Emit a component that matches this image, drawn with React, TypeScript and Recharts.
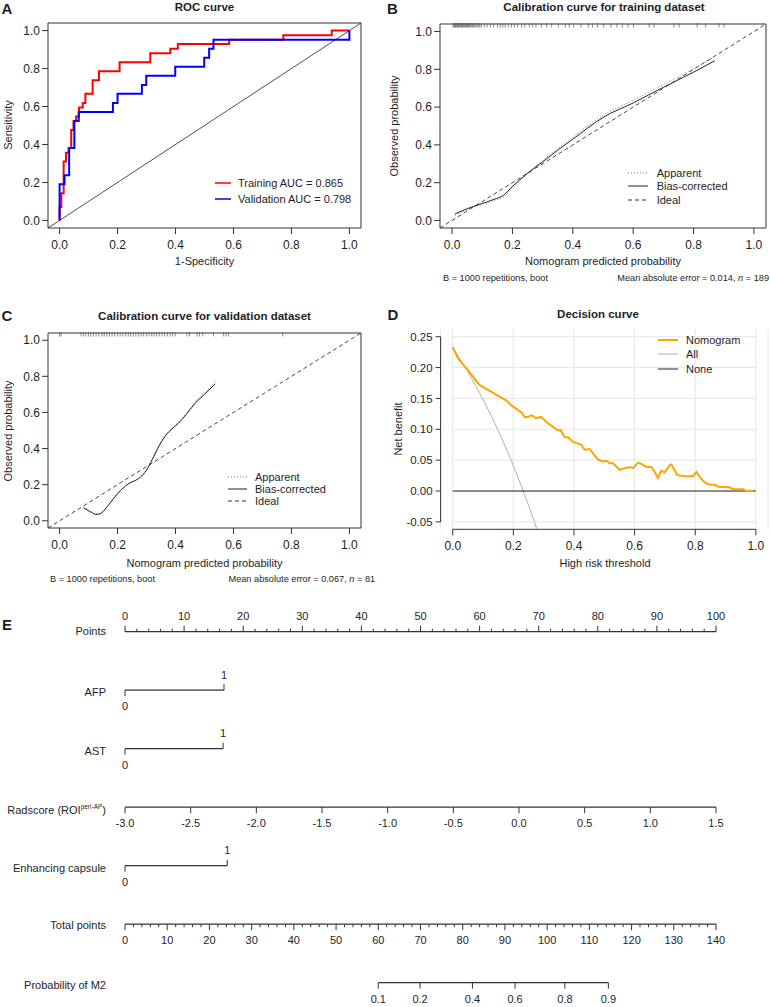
import React from 'react';
import {
  ComposedChart,
  Line,
  XAxis,
  YAxis,
  ReferenceArea,
  ReferenceLine,
  Scatter,
  CartesianGrid,
} from 'recharts';

const FONT = '"Liberation Sans", Arial, Helvetica, sans-serif';
const INK = '#1e1e1e';
const AXIS = '#333333';

// ---------------- Panel A: ROC curve ----------------
const trainFpr = [0, 0.006, 0.014, 0.022, 0.031, 0.04, 0.048, 0.057, 0.067, 0.08, 0.089, 0.114, 0.136, 0.207, 0.313, 0.382, 0.408, 0.585, 0.772, 0.939, 1.0];
const trainTpr = [0.071, 0.143, 0.31, 0.357, 0.381, 0.476, 0.524, 0.548, 0.595, 0.619, 0.667, 0.738, 0.786, 0.833, 0.881, 0.905, 0.929, 0.952, 0.976, 1.0, 1.0];
const validFpr = [0, 0.017, 0.033, 0.051, 0.066, 0.184, 0.2, 0.284, 0.299, 0.399, 0.499, 0.516, 0.531, 1.0];
const validTpr = [0.19, 0.238, 0.381, 0.524, 0.571, 0.619, 0.667, 0.714, 0.762, 0.81, 0.857, 0.905, 0.952, 1.0];
const unitTicks = [0, 0.2, 0.4, 0.6, 0.8, 1.0];

// ---------------- Panel B: calibration (training) ----------------
const calTrainX = [0.01, 0.05, 0.1, 0.14, 0.17, 0.2, 0.25, 0.3, 0.35, 0.4, 0.45, 0.5, 0.6, 0.7, 0.8, 0.87];
const calTrainBias = [0.035, 0.062, 0.09, 0.112, 0.133, 0.18, 0.25, 0.31, 0.372, 0.43, 0.49, 0.545, 0.622, 0.705, 0.785, 0.845];
const calTrainApparent = [0.028, 0.057, 0.085, 0.106, 0.122, 0.172, 0.248, 0.315, 0.38, 0.44, 0.5, 0.556, 0.636, 0.72, 0.803, 0.868];
const trainRug = [
  0.003, 0.006, 0.009, 0.011, 0.014, 0.017, 0.019, 0.022, 0.025, 0.028, 0.031, 0.034, 0.036, 0.039, 0.042,
  0.045, 0.048, 0.051, 0.054, 0.057, 0.06, 0.063, 0.067, 0.071, 0.075, 0.079, 0.083, 0.088, 0.092, 0.097,
  0.107, 0.116, 0.127, 0.138, 0.151, 0.16, 0.168, 0.176, 0.186, 0.197, 0.206, 0.217, 0.23, 0.241, 0.256,
  0.267, 0.278, 0.296, 0.313, 0.33, 0.352, 0.375, 0.388, 0.402, 0.427, 0.451, 0.465, 0.482, 0.502, 0.526,
  0.546, 0.564, 0.583, 0.601, 0.653, 0.669, 0.735, 0.752, 0.812, 0.84, 0.884, 0.901,
];

// ---------------- Panel C: calibration (validation) ----------------
const calValidX = [0.083, 0.1, 0.111, 0.125, 0.134, 0.146, 0.17, 0.2, 0.238, 0.26, 0.278, 0.3, 0.32, 0.345, 0.37, 0.385, 0.41, 0.44, 0.47, 0.5, 0.537];
const calValidBias = [0.072, 0.055, 0.045, 0.036, 0.036, 0.045, 0.09, 0.15, 0.205, 0.222, 0.24, 0.28, 0.34, 0.42, 0.48, 0.505, 0.54, 0.595, 0.655, 0.7, 0.758];
const calValidApparent = [0.08, 0.06, 0.048, 0.038, 0.037, 0.046, 0.09, 0.15, 0.206, 0.224, 0.243, 0.284, 0.344, 0.424, 0.485, 0.51, 0.546, 0.602, 0.662, 0.708, 0.772];
const validRug = [
  0.0, 0.005, 0.074, 0.083, 0.091, 0.1, 0.108, 0.117, 0.126, 0.135, 0.146, 0.154, 0.163, 0.172, 0.181, 0.19,
  0.2, 0.209, 0.218, 0.228, 0.237, 0.245, 0.254, 0.263, 0.272, 0.281, 0.29, 0.3, 0.309, 0.318, 0.326, 0.335,
  0.344, 0.353, 0.362, 0.372, 0.381, 0.39, 0.399, 0.439, 0.448, 0.474, 0.483, 0.494, 0.531, 0.566, 0.574,
  0.583, 0.77,
];

// ---------------- Panel D: decision curve ----------------
const dcaThreshold = [0, 0.017, 0.05, 0.088, 0.127, 0.154, 0.176, 0.193, 0.215, 0.228, 0.237, 0.248, 0.261, 0.275, 0.292, 0.314, 0.336, 0.347, 0.356, 0.369, 0.38, 0.396, 0.424, 0.435, 0.452, 0.463, 0.479, 0.496, 0.507, 0.518, 0.529, 0.551, 0.567, 0.584, 0.595, 0.611, 0.622, 0.639, 0.655, 0.666, 0.677, 0.688, 0.699, 0.716, 0.721, 0.741, 0.765, 0.793, 0.804, 0.815, 0.831, 0.848, 0.865, 0.876, 0.914, 0.925, 0.958, 0.969, 0.991];
const dcaNomogram = [0.233, 0.215, 0.196, 0.172, 0.161, 0.153, 0.147, 0.139, 0.131, 0.127, 0.12, 0.12, 0.123, 0.118, 0.12, 0.11, 0.102, 0.098, 0.099, 0.087, 0.087, 0.08, 0.075, 0.067, 0.068, 0.061, 0.051, 0.048, 0.049, 0.045, 0.045, 0.034, 0.037, 0.039, 0.037, 0.046, 0.044, 0.039, 0.039, 0.031, 0.021, 0.033, 0.03, 0.042, 0.043, 0.026, 0.024, 0.024, 0.031, 0.023, 0.014, 0.01, 0.01, 0.007, 0.006, 0.003, 0.003, 0, 0];
const dcaAllThreshold = [0, 0.05, 0.1, 0.15, 0.2, 0.25, 0.28];
const dcaAll = [0.233, 0.193, 0.148, 0.098, 0.041, -0.023, -0.065];
const dcaNoneThreshold = [0, 1];
const dcaNone = [0, 0];
const dcaXTicks = [0, 0.2, 0.4, 0.6, 0.8, 1.0];
const dcaYTicks = [-0.05, 0, 0.05, 0.1, 0.15, 0.2, 0.25];

// ---------------- Panel E: nomogram ----------------
const pointsMajor = [0, 10, 20, 30, 40, 50, 60, 70, 80, 90, 100];
const afpPoints = 16.75;
const astPoints = 16.6;
const capsulePoints = 17.3;
const radscoreTicks = [-3.0, -2.5, -2.0, -1.5, -1.0, -0.5, 0.0, 0.5, 1.0, 1.5];
const totalMajor = [0, 10, 20, 30, 40, 50, 60, 70, 80, 90, 100, 110, 120, 130, 140];
const probLabels = [0.1, 0.2, 0.4, 0.6, 0.8, 0.9];
const probTotalPoints = [60.0, 69.9, 82.3, 92.4, 104.2, 114.5];

// ---------------- helpers ----------------
const zip = (xs: number[], ys: number[]) => xs.map((x, i) => ({ x, y: ys[i] }));
function stepPath(fpr: number[], tpr: number[]) {
  const pts: { x: number; y: number }[] = [];
  fpr.forEach((f, i) => {
    pts.push({ x: f, y: i === 0 ? 0 : tpr[i - 1] });
    pts.push({ x: f, y: tpr[i] });
  });
  return pts;
}
const f1 = (v: number) => v.toFixed(1);
const f2 = (v: number) => v.toFixed(2);
const tick12 = { fill: INK, fontSize: 12, fontFamily: FONT };
const tick11 = { fill: INK, fontSize: 11.5, fontFamily: FONT };

type TP = {
  x: number;
  y: number;
  children: React.ReactNode;
  size?: number;
  bold?: boolean;
  anchor?: 'start' | 'middle' | 'end';
  rotate?: boolean;
};
function T({ x, y, children, size = 11, bold = false, anchor = 'middle', rotate = false }: TP) {
  const tx = anchor === 'start' ? '0' : anchor === 'end' ? '-100%' : '-50%';
  return (
    <div
      style={{
        position: 'absolute',
        left: x,
        top: y,
        transform: `translate(${tx},-50%)${rotate ? ' rotate(-90deg)' : ''}`,
        fontSize: size,
        fontWeight: bold ? 700 : 400,
        fontFamily: FONT,
        color: INK,
        whiteSpace: 'nowrap',
        lineHeight: 1,
      }}
    >
      {children}
    </div>
  );
}
function LegendLine({ x1, x2, y, stroke, width = 1, dash }: { x1: number; x2: number; y: number; stroke: string; width?: number; dash?: string }) {
  return (
    <svg style={{ position: 'absolute', left: x1, top: y - 3, overflow: 'visible' }} width={x2 - x1} height={6}>
      <line x1={0} x2={x2 - x1} y1={3} y2={3} stroke={stroke} strokeWidth={width} strokeDasharray={dash} />
    </svg>
  );
}

const rugShape = (p: any) => (
  <line x1={p.cx} x2={p.cx} y1={p.cy - 1} y2={p.cy + 3.5} stroke="#555" strokeWidth={0.7} />
);

const unitXAxis = (
  <XAxis
    type="number"
    dataKey="x"
    domain={[-0.04, 1.04]}
    ticks={unitTicks}
    tickFormatter={f1}
    axisLine={false}
    tickLine={{ stroke: AXIS }}
    tickSize={6}
    tickMargin={6}
    tick={tick12}
    height={30}
    interval={0}
  />
);
const unitYAxis = (
  <YAxis
    type="number"
    dataKey="y"
    domain={[-0.04, 1.04]}
    ticks={unitTicks}
    tickFormatter={f1}
    axisLine={false}
    tickLine={{ stroke: AXIS }}
    tickSize={6}
    tickMargin={2}
    tick={tick12}
    width={40}
    interval={0}
  />
);

function ChartA() {
  return (
    <ComposedChart width={385} height={270} margin={{ top: 23, right: 24, bottom: 12, left: 8 }}>
      {unitXAxis}
      {unitYAxis}
      <ReferenceLine segment={[{ x: -0.04, y: -0.04 }, { x: 1.04, y: 1.04 }]} stroke="#222" strokeWidth={0.8} />
      <Line data={stepPath(trainFpr, trainTpr)} dataKey="y" type="linear" stroke="#ff0000" strokeWidth={2} dot={false} isAnimationActive={false} />
      <Line data={stepPath(validFpr, validTpr)} dataKey="y" type="linear" stroke="#0000ff" strokeWidth={2} dot={false} isAnimationActive={false} />
      <ReferenceArea x1={-0.04} x2={1.04} y1={-0.04} y2={1.04} fill="none" fillOpacity={0} stroke={AXIS} strokeWidth={1} />
    </ComposedChart>
  );
}

function CalChart({ left, height, margin, xs, bias, apparent, rug }: any) {
  return (
    <ComposedChart width={left === 0 ? 385 : 386} height={height} margin={margin}>
      {unitXAxis}
      {unitYAxis}
      <ReferenceLine segment={[{ x: -0.04, y: -0.04 }, { x: 1.04, y: 1.04 }]} stroke="#333" strokeWidth={0.9} strokeDasharray="4 3" />
      <Line data={zip(xs, apparent)} dataKey="y" type="monotone" stroke="#777" strokeWidth={1} strokeDasharray="1 2" dot={false} isAnimationActive={false} />
      <Line data={zip(xs, bias)} dataKey="y" type="monotone" stroke="#222" strokeWidth={1} dot={false} isAnimationActive={false} />
      <Scatter data={rug.map((v: number) => ({ x: v, y: 1.04 }))} dataKey="y" shape={rugShape} isAnimationActive={false} />
      <ReferenceArea x1={-0.04} x2={1.04} y1={-0.04} y2={1.04} fill="none" fillOpacity={0} stroke={AXIS} strokeWidth={1} />
    </ComposedChart>
  );
}

function ChartD() {
  return (
    <ComposedChart width={386} height={300} margin={{ top: 59.3, right: 3, bottom: 10.7, left: 15.6 }}>
      <CartesianGrid horizontal={false} stroke="#e6e6e6" />
      <XAxis
        type="number"
        dataKey="x"
        domain={[-0.04, 1.04]}
        ticks={dcaXTicks}
        tickFormatter={f1}
        allowDataOverflow
        axisLine={false}
        tickLine={{ stroke: AXIS }}
        tickSize={6}
        tickMargin={6}
        tick={tick12}
        height={30}
        interval={0}
      />
      <YAxis
        type="number"
        dataKey="y"
        domain={[-0.062, 0.262]}
        ticks={dcaYTicks}
        tickFormatter={f2}
        allowDataOverflow
        axisLine={false}
        tickLine={{ stroke: AXIS }}
        tickSize={5}
        tickMargin={3}
        tick={tick11}
        width={40}
        interval={0}
      />
      {dcaYTicks.map((v) => (
        <ReferenceLine key={v} segment={[{ x: 0, y: v }, { x: 1, y: v }]} stroke="#e6e6e6" strokeWidth={1} />
      ))}
      <ReferenceLine segment={[{ x: -0.04, y: -0.05 }, { x: -0.04, y: 0.25 }]} stroke={AXIS} strokeWidth={1} />
      <ReferenceLine segment={[{ x: 0, y: -0.062 }, { x: 1, y: -0.062 }]} stroke={AXIS} strokeWidth={1} />
      <Line data={zip(dcaAllThreshold, dcaAll)} dataKey="y" type="monotone" stroke="#b0b0b0" strokeWidth={1} dot={false} isAnimationActive={false} />
      <Line data={zip(dcaNoneThreshold, dcaNone)} dataKey="y" type="linear" stroke="#222" strokeWidth={1} dot={false} isAnimationActive={false} />
      <Line data={zip(dcaThreshold, dcaNomogram)} dataKey="y" type="linear" stroke="#ffa500" strokeWidth={2} dot={false} isAnimationActive={false} />
    </ComposedChart>
  );
}

// ---------- nomogram ----------
const totalToPoints = (t: number) => (t / totalMajor[totalMajor.length - 1]) * 100;
const radToPoints = (r: number) => ((r - radscoreTicks[0]) / (radscoreTicks[radscoreTicks.length - 1] - radscoreTicks[0])) * 100;

const nomoLines = [
  [{ x: 0, y: 0 }, { x: 100, y: 0 }],
  [{ x: 0, y: 1 }, { x: afpPoints, y: 1 }],
  [{ x: 0, y: 2 }, { x: astPoints, y: 2 }],
  [{ x: radToPoints(radscoreTicks[0]), y: 3 }, { x: radToPoints(radscoreTicks[radscoreTicks.length - 1]), y: 3 }],
  [{ x: 0, y: 4 }, { x: capsulePoints, y: 4 }],
  [{ x: totalToPoints(0), y: 5 }, { x: totalToPoints(140), y: 5 }],
  [{ x: totalToPoints(probTotalPoints[0]), y: 6 }, { x: totalToPoints(probTotalPoints[probTotalPoints.length - 1]), y: 6 }],
];

const pointsTicks: any[] = [];
for (let v = 0; v <= 100; v += 2) pointsTicks.push({ x: v, y: 0, label: pointsMajor.includes(v) ? String(v) : '' });
const totalTicks: any[] = [];
for (let v = 0; v <= 140; v += 2) totalTicks.push({ x: totalToPoints(v), y: 5, label: totalMajor.includes(v) ? String(v) : '' });

const upTicks = [
  ...pointsTicks,
  { x: afpPoints, y: 1, label: '1' },
  { x: astPoints, y: 2, label: '1' },
  { x: capsulePoints, y: 4, label: '1' },
];
const downTicks = [
  { x: 0, y: 1, label: '0' },
  { x: 0, y: 2, label: '0' },
  { x: 0, y: 4, label: '0' },
  ...radscoreTicks.map((r) => ({ x: radToPoints(r), y: 3, label: f1(r) })),
  ...totalTicks,
  ...probLabels.map((p, i) => ({ x: totalToPoints(probTotalPoints[i]), y: 6, label: f1(p) })),
];

const nomoText = { fontSize: 11, fontFamily: FONT, fill: INK } as const;
const upShape = (p: any) => {
  const major = p.payload.label !== '';
  return (
    <g>
      <line x1={p.cx} x2={p.cx} y1={p.cy} y2={p.cy - (major ? 6 : 3)} stroke={AXIS} strokeWidth={1} />
      {major && (
        <text x={p.cx} y={p.cy - 15.5} dy="0.35em" textAnchor="middle" style={nomoText}>
          {p.payload.label}
        </text>
      )}
    </g>
  );
};
const downShape = (p: any) => {
  const major = p.payload.label !== '';
  return (
    <g>
      <line x1={p.cx} x2={p.cx} y1={p.cy} y2={p.cy + (major ? 6 : 3)} stroke={AXIS} strokeWidth={1} />
      {major && (
        <text x={p.cx} y={p.cy + 16} dy="0.35em" textAnchor="middle" style={nomoText}>
          {p.payload.label}
        </text>
      )}
    </g>
  );
};

function ChartE() {
  return (
    <ComposedChart width={771} height={407} margin={{ top: 31.7, right: 55, bottom: 24.3, left: 125 }} style={{ overflow: 'visible' }}>
      <XAxis type="number" dataKey="x" domain={[0, 100]} hide />
      <YAxis type="number" dataKey="y" domain={[0, 6]} reversed hide />
      {nomoLines.map((seg, i) => (
        <Line key={i} data={seg} dataKey="y" type="linear" stroke={AXIS} strokeWidth={1.2} dot={false} isAnimationActive={false} />
      ))}
      <Scatter data={upTicks} dataKey="y" shape={upShape} isAnimationActive={false} />
      <Scatter data={downTicks} dataKey="y" shape={downShape} isAnimationActive={false} />
    </ComposedChart>
  );
}

export default function App() {
  return (
    <div
      style={{
        position: 'absolute',
        left: 0,
        top: 0,
        width: 771,
        height: 1007,
        background: '#fff',
        overflow: 'hidden',
        fontFamily: FONT,
        color: INK,
      }}
    >
      <div style={{ position: 'absolute', left: 0, top: 0 }}>
        <ChartA />
      </div>
      <div style={{ position: 'absolute', left: 385, top: 0 }}>
        <CalChart left={385} height={270} margin={{ top: 24, right: 5, bottom: 12, left: 15 }} xs={calTrainX} bias={calTrainBias} apparent={calTrainApparent} rug={trainRug} />
      </div>
      <div style={{ position: 'absolute', left: 0, top: 270 }}>
        <CalChart left={0} height={300} margin={{ top: 63, right: 24, bottom: 12, left: 8 }} xs={calValidX} bias={calValidBias} apparent={calValidApparent} rug={validRug} />
      </div>
      <div style={{ position: 'absolute', left: 385, top: 270 }}>
        <ChartD />
      </div>
      <div style={{ position: 'absolute', left: 0, top: 600 }}>
        <ChartE />
      </div>

      {/* panel letters */}
      <T x={7} y={8} size={15} bold>A</T>
      <T x={392.5} y={8} size={15} bold>B</T>
      <T x={7} y={315} size={15} bold>C</T>
      <T x={393} y={314} size={15} bold>D</T>
      <T x={7} y={624} size={15} bold>E</T>

      {/* titles */}
      <T x={204.5} y={8} size={11.5} bold>ROC curve</T>
      <T x={604} y={8} size={11.5} bold>Calibration curve for training dataset</T>
      <T x={204.5} y={316.5} size={11.5} bold>Calibration curve for validation dataset</T>
      <T x={598} y={315} size={11.5} bold>Decision curve</T>

      {/* axis titles */}
      <T x={8} y={125} rotate>Sensitivity</T>
      <T x={204.5} y={261}>1-Specificity</T>
      <T x={394} y={126} rotate>Observed probability</T>
      <T x={603} y={261}>Nomogram predicted probability</T>
      <T x={8} y={430.5} rotate>Observed probability</T>
      <T x={204.5} y={563}>Nomogram predicted probability</T>
      <T x={398} y={429} rotate>Net benefit</T>
      <T x={605} y={563}>High risk threshold</T>

      {/* A legend */}
      <LegendLine x1={215} x2={231} y={183} stroke="#ff0000" width={1.5} />
      <T x={238} y={183} anchor="start">Training AUC = 0.865</T>
      <LegendLine x1={215} x2={231} y={199} stroke="#0000ff" width={1.5} />
      <T x={238} y={199} anchor="start">Validation AUC = 0.798</T>

      {/* B legend */}
      <LegendLine x1={628} x2={648} y={173.3} stroke="#777" dash="1 2" />
      <T x={656.7} y={173.3} anchor="start">Apparent</T>
      <LegendLine x1={628} x2={648} y={186} stroke="#222" />
      <T x={656.7} y={186} anchor="start">Bias-corrected</T>
      <LegendLine x1={628} x2={648} y={200} stroke="#333" dash="4 3" />
      <T x={656.7} y={200} anchor="start">Ideal</T>

      {/* B footer */}
      <T x={443} y={279} size={9.2} anchor="start">B = 1000 repetitions, boot</T>
      <T x={769} y={279} size={9.2} anchor="end">
        Mean absolute error = 0.014, <i>n</i> = 189
      </T>

      {/* C legend */}
      <LegendLine x1={228} x2={247} y={476.7} stroke="#777" dash="1 2" />
      <T x={255} y={476.7} anchor="start">Apparent</T>
      <LegendLine x1={228} x2={247} y={489} stroke="#222" />
      <T x={255} y={489} anchor="start">Bias-corrected</T>
      <LegendLine x1={228} x2={247} y={500.7} stroke="#333" dash="4 3" />
      <T x={255} y={500.7} anchor="start">Ideal</T>

      {/* C footer */}
      <T x={50} y={580} size={9.2} anchor="start">B = 1000 repetitions, boot</T>
      <T x={228.5} y={580} size={9.2} anchor="start">
        Mean absolute error = 0.067, <i>n</i> = 81
      </T>

      {/* D legend */}
      <LegendLine x1={658} x2={678} y={340} stroke="#ffa500" width={2} />
      <T x={686} y={340} anchor="start">Nomogram</T>
      <LegendLine x1={658} x2={678} y={354} stroke="#b0b0b0" />
      <T x={686} y={354} anchor="start">All</T>
      <LegendLine x1={658} x2={678} y={369} stroke="#222" />
      <T x={686} y={369} anchor="start">None</T>

      {/* nomogram row labels */}
      <T x={106} y={631} anchor="end">Points</T>
      <T x={106} y={691.5} anchor="end">AFP</T>
      <T x={106} y={750.5} anchor="end">AST</T>
      <T x={106} y={809.5} anchor="end">
        Radscore (ROI<sup style={{ fontSize: 6.5, verticalAlign: 'super', lineHeight: 0 }}>peri-AP</sup>)
      </T>
      <T x={106} y={867.5} anchor="end">Enhancing capsule</T>
      <T x={106} y={925} anchor="end">Total points</T>
      <T x={106} y={985} anchor="end">Probability of M2</T>
    </div>
  );
}
